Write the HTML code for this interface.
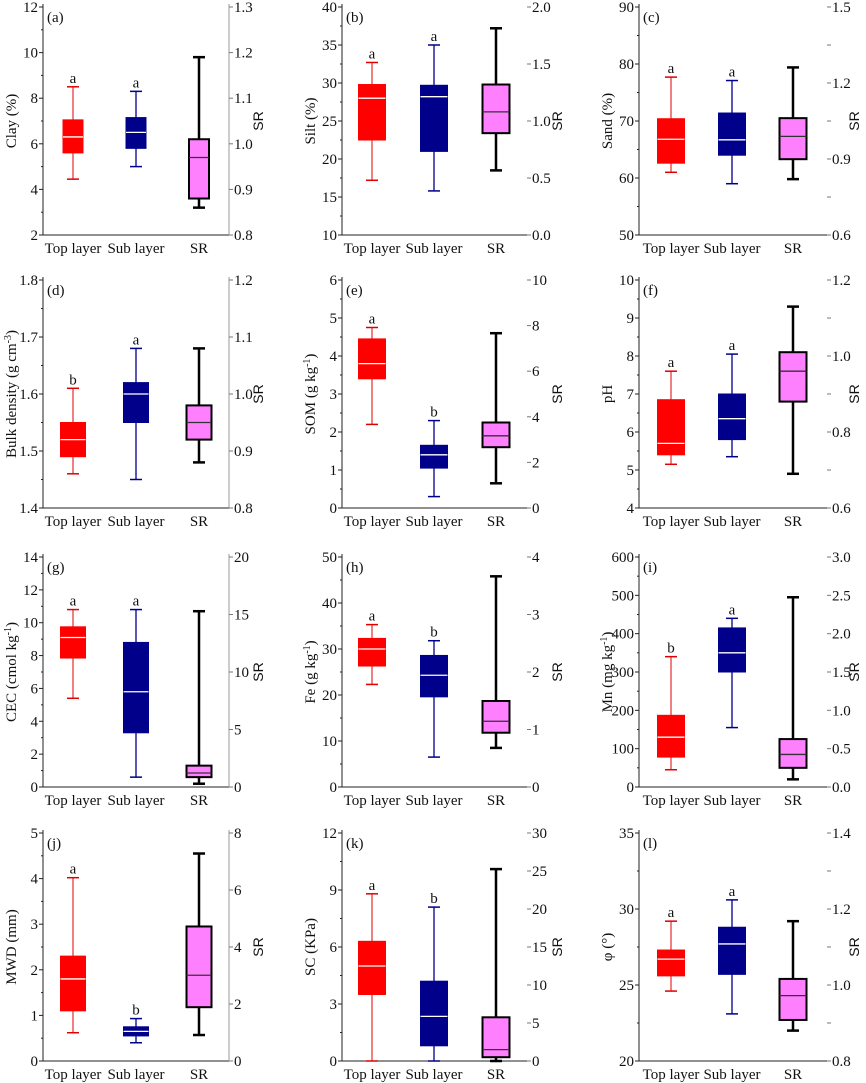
<!DOCTYPE html>
<html><head><meta charset="utf-8"><style>
html,body{margin:0;padding:0;background:#fff;}
svg{display:block;}
text{font-family:"Liberation Serif",serif;fill:#111;}
</style></head><body>
<svg id="s" width="866" height="1083" xmlns="http://www.w3.org/2000/svg"></svg>
<script>
var cols=[{l:43,r:229,c:[73,136,199],bw:22,line:true,sx:263},{l:342,r:527,c:[372,434,496],bw:27,line:false,sx:562},{l:639,r:827,c:[671,732,793],bw:27,line:false,sx:859}];
var rows=[{t:7,b:235},{t:280,b:508},{t:557,b:787},{t:833,b:1061}];
var P=[
{id:'a',lab:'Clay (%)',y:[2,12],lt:[2,4,6,8,10,12],rt:[0.8,0.9,1.0,1.1,1.2,1.3],rl:[0.8,0.9,1.0,1.1,1.2,1.3],rr:[0.8,1.3],rf:1,
 d:[[4.45,5.6,6.3,7.05,8.5],[5.0,5.8,6.5,7.15,8.3],[3.2,3.6,5.4,6.2,9.8]],L:['a','a']},
{id:'b',lab:'Silt (%)',y:[10,40],lt:[10,15,20,25,30,35,40],rt:[0,0.5,1,1.5,2],rl:['0.0','0.5','1.0','1.5','2.0'],rr:[0,2],
 d:[[17.2,22.5,28,29.8,32.7],[15.8,21,28.2,29.7,35],[18.5,23.4,26.2,29.8,37.2]],L:['a','a']},
{id:'c',lab:'Sand (%)',y:[50,90],lt:[50,60,70,80,90],rt:[0.6,0.75,0.9,1.05,1.2,1.35,1.5],rl:['0.6','','0.9','','1.2','','1.5'],rr:[0.6,1.5],
 d:[[61,62.6,66.8,70.4,77.7],[59,64,66.7,71.4,77.1],[59.8,63.3,67.3,70.5,79.4]],L:['a','a']},
{id:'d',lab:'Bulk density (g cm<tspan dy="-5" font-size="10">-3</tspan><tspan dy="5">)</tspan>',y:[1.4,1.8],lt:[1.4,1.5,1.6,1.7,1.8],ltf:1,rt:[0.8,0.9,1.0,1.1,1.2],rl:['0.8','0.9','1.0','1.1','1.2'],rr:[0.8,1.2],
 d:[[1.46,1.49,1.52,1.55,1.61],[1.45,1.55,1.6,1.62,1.68],[1.48,1.52,1.55,1.58,1.68]],L:['b','a']},
{id:'e',lab:'SOM (g kg<tspan dy="-5" font-size="10">-1</tspan><tspan dy="5">)</tspan>',y:[0,6],lt:[0,1,2,3,4,5,6],rt:[0,2,4,6,8,10],rl:['0','2','4','6','8','10'],rr:[0,10],
 d:[[2.2,3.4,3.8,4.45,4.75],[0.3,1.05,1.4,1.65,2.3],[0.65,1.6,1.9,2.25,4.6]],L:['a','b']},
{id:'f',lab:'pH',y:[4,10],lt:[4,5,6,7,8,9,10],rt:[0.6,0.7,0.8,0.9,1.0,1.1,1.2],rl:['0.6','','0.8','','1.0','','1.2'],rr:[0.6,1.2],
 d:[[5.15,5.4,5.7,6.85,7.6],[5.35,5.8,6.35,7.0,8.05],[4.9,6.8,7.6,8.1,9.3]],L:['a','a']},
{id:'g',lab:'CEC (cmol kg<tspan dy="-5" font-size="10">-1</tspan><tspan dy="5">)</tspan>',y:[0,14],lt:[0,2,4,6,8,10,12,14],rt:[0,5,10,15,20],rl:['0','5','10','15','20'],rr:[0,20],
 d:[[5.4,7.85,9.1,9.75,10.8],[0.6,3.3,5.8,8.8,10.8],[0.2,0.6,0.85,1.3,10.7]],L:['a','a']},
{id:'h',lab:'Fe (g kg<tspan dy="-5" font-size="10">-1</tspan><tspan dy="5">)</tspan>',y:[0,50],lt:[0,10,20,30,40,50],rt:[0,1,2,3,4],rl:['0','1','2','3','4'],rr:[0,4],
 d:[[22.3,26.3,30,32.3,35.3],[6.5,19.6,24.3,28.6,31.8],[8.5,11.8,14.3,18.7,45.8]],L:['a','b']},
{id:'i',lab:'Mn (mg kg<tspan dy="-5" font-size="10">-1</tspan><tspan dy="5">)</tspan>',y:[0,600],lt:[0,100,200,300,400,500,600],rt:[0,0.5,1,1.5,2,2.5,3],rl:['0.0','0.5','1.0','1.5','2.0','2.5','3.0'],rr:[0,3],
 d:[[45,78,130,187,340],[155,300,350,415,440],[20,50,85,125,495]],L:['b','a']},
{id:'j',lab:'MWD (mm)',y:[0,5],lt:[0,1,2,3,4,5],rt:[0,2,4,6,8],rl:['0','2','4','6','8'],rr:[0,8],
 d:[[0.62,1.1,1.8,2.3,4.02],[0.4,0.55,0.65,0.75,0.93],[0.57,1.18,1.88,2.95,4.55]],L:['a','b']},
{id:'k',lab:'SC (KPa)',y:[0,12],lt:[0,3,6,9,12],rt:[0,5,10,15,20,25,30],rl:['0','5','10','15','20','25','30'],rr:[0,30],
 d:[[0,3.5,5.0,6.3,8.8],[0,0.8,2.35,4.2,8.1],[0,0.2,0.6,2.3,10.1]],L:['a','b']},
{id:'l',lab:'φ (°)',y:[20,35],lt:[20,25,30,35],rt:[0.8,0.9,1.0,1.1,1.2,1.3,1.4],rl:['0.8','','1.0','','1.2','','1.4'],rr:[0.8,1.4],
 d:[[24.6,25.6,26.7,27.3,29.2],[23.1,25.7,27.7,28.8,30.6],[22,22.7,24.3,25.4,29.2]],L:['a','a']}
];
var h='';
P.forEach(function(p,i){
 var C=cols[i%3],R=rows[Math.floor(i/3)];
 var Y=function(v){return R.b-(v-p.y[0])/(p.y[1]-p.y[0])*(R.b-R.t);};
 var YR=function(v){return R.b-(v-p.rr[0])/(p.rr[1]-p.rr[0])*(R.b-R.t);};
 h+='<line x1="'+C.l+'" y1="'+(R.t-3)+'" x2="'+C.l+'" y2="'+R.b+'" stroke="#222" stroke-width="1"/>';
 h+='<line x1="'+C.l+'" y1="'+R.b+'" x2="'+C.r+'" y2="'+R.b+'" stroke="#222" stroke-width="1"/>';
 if(C.line)h+='<line x1="'+C.r+'" y1="'+(R.t-3)+'" x2="'+C.r+'" y2="'+R.b+'" stroke="#999" stroke-width="1"/>';
 for(var k=0;k<p.lt.length;k++){var y=Y(p.lt[k]);
  h+='<line x1="'+(C.l-4)+'" y1="'+y+'" x2="'+C.l+'" y2="'+y+'" stroke="#222"/>';
  if(k<p.lt.length-1){var ym=(y+Y(p.lt[k+1]))/2;h+='<line x1="'+(C.l-2)+'" y1="'+ym+'" x2="'+C.l+'" y2="'+ym+'" stroke="#222"/>';}
  var t=p.ltf?p.lt[k].toFixed(1):p.lt[k];
  h+='<text x="'+(C.l-5)+'" y="'+(y+5)+'" font-size="15" text-anchor="end">'+t+'</text>';}
 for(var k=0;k<p.rt.length;k++){var y=YR(p.rt[k]);
  h+='<line x1="'+C.r+'" y1="'+y+'" x2="'+(C.r+4)+'" y2="'+y+'" stroke="#777"/>';
  if(p.rl[k]!=='')h+='<text x="'+(C.r+5)+'" y="'+(y+5)+'" font-size="15">'+(typeof p.rl[k]==='number'?p.rl[k].toFixed(1):p.rl[k])+'</text>';}
 h+='<text x="'+(C.l+4)+'" y="'+(R.t+15)+'" font-size="15">('+p.id+')</text>';
 var lx=C.l-27,ly=(R.t+R.b)/2;
 h+='<text x="'+lx+'" y="'+ly+'" font-size="15" text-anchor="middle" transform="rotate(-90 '+lx+' '+ly+')">'+p.lab+'</text>';
 var sx=C.sx;
 h+='<text x="'+sx+'" y="'+ly+'" font-size="14" text-anchor="middle" style="font-family:\'Liberation Sans\',sans-serif" transform="rotate(-90 '+sx+' '+ly+')">SR</text>';
 var names=['Top layer','Sub layer','SR'];
 for(var j=0;j<3;j++)h+='<text x="'+C.c[j]+'" y="'+(R.b+18)+'" font-size="15" text-anchor="middle">'+names[j]+'</text>';
 var fills=['#ff0000','#00008b','#ff80ff'],strk=['#e00000','#00008b','#000'],sw=[1,1.3,2.5];
 var bw=(i==0)?20:(i%3==0?25:C.bw);
 for(var j=0;j<3;j++){var d=p.d[j],x=C.c[j];
  h+='<line x1="'+x+'" y1="'+Y(d[0])+'" x2="'+x+'" y2="'+Y(d[4])+'" stroke="'+strk[j]+'" stroke-width="'+sw[j]+'"/>';
  [d[0],d[4]].forEach(function(v){h+='<line x1="'+(x-6)+'" y1="'+Y(v)+'" x2="'+(x+6)+'" y2="'+Y(v)+'" stroke="'+strk[j]+'" stroke-width="'+(j==2?2.5:1.5)+'"/>';});
  h+='<rect x="'+(x-bw/2)+'" y="'+Y(d[3])+'" width="'+bw+'" height="'+(Y(d[1])-Y(d[3]))+'" fill="'+fills[j]+'" stroke="'+(j==2?'#000':fills[j])+'" stroke-width="'+(j==2?2:1)+'"/>';
  h+='<line x1="'+(x-bw/2)+'" y1="'+Y(d[2])+'" x2="'+(x+bw/2)+'" y2="'+Y(d[2])+'" stroke="'+(j==2?'#333':'#fff')+'" stroke-width="1.3"/>';
  if(j<2)h+='<text x="'+x+'" y="'+(Y(d[4])-4)+'" font-size="15" text-anchor="middle">'+p.L[j]+'</text>';
 }
});
document.getElementById('s').innerHTML=h;
</script>
</body></html>
